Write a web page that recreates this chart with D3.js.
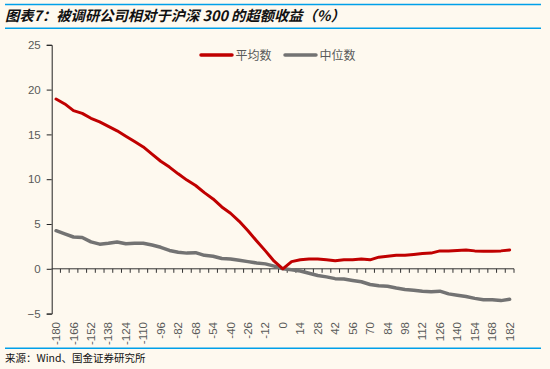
<!DOCTYPE html>
<html><head><meta charset="utf-8">
<script src="https://cdn.jsdelivr.net/npm/d3@7"></script>
<style>
body{margin:0;background:#FEF9EF;}
svg{display:block;}
</style></head>
<body>
<svg id="chart" width="550" height="369"></svg>
<script>
// Data
const days = [-180,-173,-166,-159,-152,-145,-138,-131,-124,-117,-110,-103,-96,-89,-82,-75,-68,-61,-54,-47,-40,-33,-26,-19,-12,-5,
  0,7,14,21,28,35,42,49,56,63,70,77,84,91,98,105,112,119,126,133,140,147,154,161,168,175,182];
const meanValues = [18.95,18.4,17.65,17.35,16.8,16.4,15.9,15.4,14.8,14.2,13.6,12.8,12.0,11.35,10.6,9.9,9.3,8.5,7.8,6.9,6.2,5.3,4.25,3.1,2.0,0.85,
  0,0.8,1.0,1.1,1.1,1.0,0.9,1.0,1.0,1.1,1.0,1.3,1.4,1.5,1.5,1.6,1.7,1.75,2.0,2.0,2.05,2.1,2.0,1.95,1.95,2.0,2.1];
const medianValues = [4.25,3.9,3.55,3.5,3.0,2.75,2.85,3.0,2.8,2.85,2.85,2.65,2.4,2.05,1.85,1.75,1.8,1.5,1.4,1.15,1.1,0.95,0.8,0.65,0.55,0.3,
  0,-0.1,-0.25,-0.5,-0.75,-0.9,-1.1,-1.15,-1.3,-1.45,-1.75,-1.9,-1.95,-2.15,-2.3,-2.4,-2.5,-2.55,-2.5,-2.8,-2.95,-3.1,-3.3,-3.45,-3.45,-3.55,-3.4];
const yTicks = [-5,0,5,10,15,20,25];
const seriesNames = ["平均数","中位数"];
const seriesColors = ["#C00000","#737373"];

const svg = d3.select("#chart");
const W = 550, H = 369;
svg.append("rect").attr("width",W).attr("height",H).attr("fill","#FEF9EF");

// Title & frame lines
svg.append("line").attr("x1",5).attr("x2",541).attr("y1",4.5).attr("y2",4.5).attr("stroke","#00A0E9").attr("stroke-width",1.5);
svg.append("line").attr("x1",5).attr("x2",541).attr("y1",28.3).attr("y2",28.3).attr("stroke","#00A0E9").attr("stroke-width",1.5);
svg.append("line").attr("x1",5).attr("x2",541).attr("y1",348.3).attr("y2",348.3).attr("stroke","#00A0E9").attr("stroke-width",1.5);
svg.append("text").attr("x",5).attr("y",21)
  .attr("font-family","'Noto Sans CJK SC', sans-serif").attr("font-size",14.3).attr("font-weight","bold")
  .attr("font-style","italic").attr("fill","#111")
  .text("图表7：被调研公司相对于沪深 300 的超额收益（%）");
svg.append("text").attr("x",5).attr("y",362)
  .attr("font-family","'Noto Sans CJK SC', sans-serif").attr("font-size",10.5).attr("fill","#111")
  .text("来源：Wind、国金证券研究所");

// Scales
const x = d3.scaleBand().domain(days).range([51.7,514]).paddingInner(0).paddingOuter(0);
const y = d3.scaleLinear().domain([-5,25]).range([313.6,44.8]);
const cx = d => x(d) + x.bandwidth()/2;

const font = "'Liberation Sans', Arial, sans-serif";

// Y axis
const yAxis = svg.append("g").attr("transform","translate(51.7,0)")
  .call(d3.axisLeft(y).tickValues(yTicks).tickSize(5).tickPadding(6).tickFormat(d3.format("d")));
yAxis.select(".domain").attr("stroke","#222").attr("stroke-width",1);
yAxis.selectAll(".tick line").attr("stroke","#222");
yAxis.selectAll("text").attr("font-family",font).attr("font-size",11.5).attr("fill","#595959");

// X axis at y=0 (ticks at category boundaries)
const xg = svg.append("g").attr("transform",`translate(0,${y(0)})`);
xg.append("line").attr("x1",51.7).attr("x2",514).attr("y1",0).attr("y2",0).attr("stroke","#333").attr("stroke-width",1);
xg.selectAll("line.tk").data(days).enter().append("line").attr("class","tk")
  .attr("x1",d=>x(d)+x.bandwidth()).attr("x2",d=>x(d)+x.bandwidth()).attr("y1",0).attr("y2",4)
  .attr("stroke","#333").attr("stroke-width",1);

// X labels at bottom, rotated
const labelDays = days.filter((d,i)=>i%2===0);
svg.append("g").selectAll("text").data(labelDays).enter().append("text")
  .attr("transform",d=>`translate(${cx(d)+4},322) rotate(-90)`)
  .attr("text-anchor","end").attr("font-family",font).attr("font-size",11.5).attr("fill","#595959")
  .text(d=>d);

// Lines
const line = d3.line().x((d,i)=>cx(days[i])).y(d=>y(d)).curve(d3.curveLinear);
svg.append("path").datum(medianValues).attr("d",line).attr("fill","none")
  .attr("stroke",seriesColors[1]).attr("stroke-width",3.5).attr("stroke-linejoin","round").attr("stroke-linecap","round");
svg.append("path").datum(meanValues).attr("d",line).attr("fill","none")
  .attr("stroke",seriesColors[0]).attr("stroke-width",3).attr("stroke-linejoin","round").attr("stroke-linecap","round");

// Legend
const legendX = [201, 285];
seriesNames.forEach((n,i)=>{
  svg.append("line").attr("x1",legendX[i]).attr("x2",legendX[i]+31).attr("y1",55).attr("y2",55)
    .attr("stroke",seriesColors[i]).attr("stroke-width",3.5).attr("stroke-linecap","round");
  svg.append("text").attr("x",legendX[i]+34.5).attr("y",59.5)
    .attr("font-family","'Noto Sans CJK SC', sans-serif").attr("font-size",12).attr("fill","#595959").text(n);
});
</script>
</body></html>
